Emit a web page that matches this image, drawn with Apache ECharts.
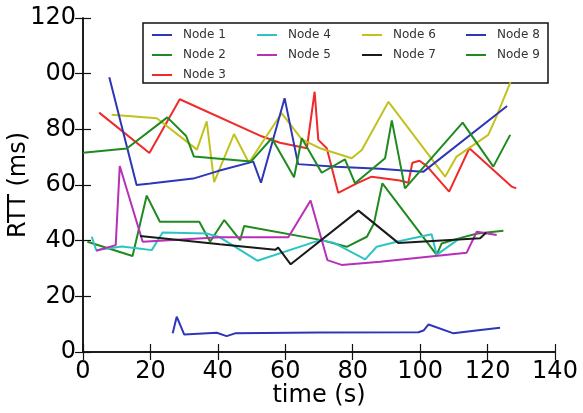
<!DOCTYPE html>
<html>
<head>
<meta charset="utf-8">
<script src="https://cdn.jsdelivr.net/npm/echarts@6/dist/echarts.min.js"></script>
<style>
  html, body { margin: 0; padding: 0; background: #fff; }
  #chart { width: 583px; height: 413px; }
</style>
</head>
<body>
<div id="chart"></div>
<script>
// values: [time (s), RTT (ms)]
const xTicks = [0, 20, 40, 60, 80, 100, 120, 140];
const yTickLabels = ["0", "20", "40", "60", "80", "00", "120"];

const node1 = [[26.6,6.7],[27.8,12.7],[30,6.3],[39.7,6.9],[42.6,5.7],[45.1,6.7],[70,7.0],[99.5,7.1],[101,7.7],[102.5,9.9],[109.9,6.7],[116,7.6],[123.7,8.7]];
const node2 = [[1.3,39.6],[14.7,34.5],[18.9,56.2],[22.8,46.8],[34.5,46.8],[37.7,39.6],[41.9,47.4],[46.6,40.2],[47.8,45.3],[70.8,40.2],[78.2,37.8],[84.2,41.4],[86.3,46.2],[88.8,60.6],[104.9,34.9],[106.4,39],[112,41],[117,42.6],[124.7,43.6]];
const node3 = [[4.8,86],[19.7,71.5],[28.7,90.8],[53,77.5],[58.4,75.2],[66.4,73.2],[68.7,93.5],[69.8,76.2],[72.3,73.2],[75.7,57.2],[81.2,60.6],[85.6,63],[94,61.6],[96.5,60.8],[97.7,68],[99.8,68.7],[102,66.8],[108.6,57.6],[114.6,73.2],[127.2,59.4],[128.5,58.8]];
const node4 = [[2.6,41.4],[3.9,36.6],[8,37.3],[11.5,37.9],[15.9,37.3],[20.4,36.6],[23.6,42.9],[36.7,42.6],[40.6,41.2],[51.7,32.8],[70.3,40.2],[74.3,39.3],[83.7,33.3],[87.1,37.8],[94,39.9],[103.4,42.3],[104.9,34.9],[111.8,40.9]];
const node5 = [[3.9,36.4],[9.7,38.4],[10.9,66.8],[17.7,39.6],[40.6,41.2],[60.9,41.2],[67.5,54.4],[72.5,33],[76.7,31.3],[88.1,32.4],[113.8,35.7],[116.8,43.2],[122.7,42]];
const node6 = [[8.5,85.2],[21.9,84],[33.8,72.7],[36.7,82.9],[38.9,61],[44.8,78.3],[49.2,68],[58.9,85.8],[64.9,76.4],[70.3,73.2],[79.7,69.6],[82.7,72.6],[90.6,89.9],[107.4,63],[110.8,70.2],[120.2,78],[122.2,83.4],[126.8,97]];
const node7 = [[16.9,41.7],[40.6,38.7],[57,36.7],[57.9,37.5],[61.6,31.5],[81.7,50.8],[93.5,39.2],[117.8,40.9],[119.6,42.9]];
const node8 = [[7.8,98.7],[15.9,60],[20,60.5],[32.7,62.3],[40,65],[50.5,68.4],[52.8,60.8],[59.8,91.2],[63.8,67.5],[75,66.6],[88,65.8],[94,65.3],[101,64.8],[125.8,88.4]];
const node9 = [[0,71.6],[13,73.1],[25,84.3],[30.6,77.6],[32.9,70.2],[49.8,68.4],[56,76.8],[62.6,62.8],[64.9,76.8],[70.8,64.4],[77.7,69.2],[80.7,60.6],[89.6,69.6],[91.6,83.2],[95.5,58.8],[112.6,82.4],[121.7,66.6],[126.7,78]];

const names = ["Node 1", "Node 2", "Node 3", "Node 4", "Node 5", "Node 6", "Node 7", "Node 8", "Node 9"];
const values = [node1, node2, node3, node4, node5, node6, node7, node8, node9];
const colors = ["#2e36b8", "#1f8a1f", "#f02a2a", "#2ec4c4", "#b82fb8", "#c2c21f", "#1a1a1a", "#2e36b8", "#1f8a1f"];
const legendCols = [["Node 1", "Node 2", "Node 3"], ["Node 4", "Node 5"], ["Node 6", "Node 7"], ["Node 8", "Node 9"]];
const legendLeft = [152, 257, 362, 466];

const font = "DejaVu Sans";
const frame = { show: true, lineStyle: { color: "#111", width: 1.5 } };
const ticks = { show: true, inside: true, length: 8, lineStyle: { color: "#111", width: 1.2 } };

function xAxis(pos) {
  return {
    type: "value", position: pos, min: 0, max: 140, interval: 20,
    axisLine: frame, axisTick: ticks, splitLine: { show: false },
    axisLabel: {
      show: pos === "bottom", fontSize: 24, color: "#000", fontFamily: font, margin: 8,
    },
    name: pos === "bottom" ? "time (s)" : "",
    nameLocation: "middle", nameGap: 32, nameMoveOverlap: false,
    nameTextStyle: { fontSize: 24, color: "#000", fontFamily: font },
  };
}
function yAxis(pos) {
  return {
    type: "value", position: pos, min: 0, max: 120, interval: 20,
    axisLine: frame, axisTick: ticks, splitLine: { show: false },
    axisLabel: {
      show: pos === "left", fontSize: 24, color: "#000", fontFamily: font, margin: 7,
      formatter: (v) => yTickLabels[Math.round(v / 20)],
    },
    name: pos === "left" ? "RTT (ms)" : "",
    nameLocation: "middle", nameGap: 52, nameMoveOverlap: false,
    nameTextStyle: { fontSize: 24, color: "#000", fontFamily: font },
  };
}

const chart = echarts.init(document.getElementById("chart"), null, { renderer: "canvas" });
chart.setOption({
  animation: false,
  backgroundColor: "#fff",
  grid: { left: 83, right: 28, top: 18, bottom: 61, containLabel: false, outerBoundsMode: "none" },
  xAxis: [xAxis("bottom"), xAxis("top")],
  yAxis: [yAxis("left"), yAxis("right")],
  graphic: [{
    type: "rect", z: 3,
    shape: { x: 143, y: 23, width: 405, height: 60 },
    style: { fill: "#fff", stroke: "#111", lineWidth: 1.5 },
  }],
  legend: legendCols.map((col, i) => ({
    data: col,
    orient: "vertical",
    left: legendLeft[i], top: 28,
    padding: 0, itemGap: 6,
    icon: "rect", itemWidth: 20, itemHeight: 2,
    selectedMode: false, z: 5,
    textStyle: { fontSize: 12, color: "#333", fontFamily: font, lineHeight: 14, padding: [0, 0, 0, 6] },
  })),
  series: names.map((n, i) => ({
    name: n, type: "line", data: values[i],
    xAxisIndex: 0, yAxisIndex: 0,
    showSymbol: false, symbol: "none",
    color: colors[i],
    lineStyle: { width: 2, color: colors[i] },
  })),
});
</script>
</body>
</html>
